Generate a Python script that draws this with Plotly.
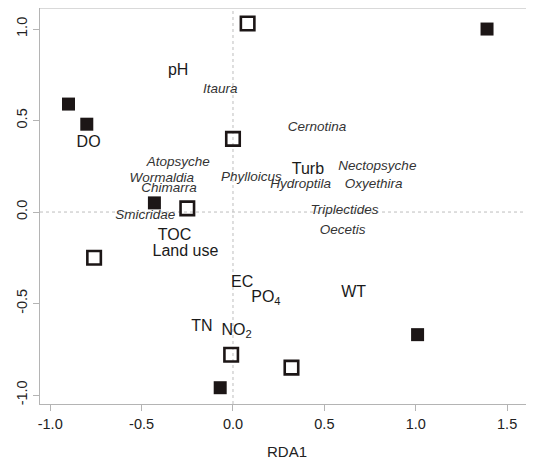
import plotly.graph_objects as go

# Sites
filled_x = [1.39, -0.90, -0.80, -0.43, -0.07, 1.01]
filled_y = [1.00, 0.59, 0.48, 0.05, -0.96, -0.67]
open_x = [0.08, 0.00, -0.25, -0.76, -0.01, 0.32]
open_y = [1.03, 0.40, 0.02, -0.25, -0.78, -0.85]

# Environmental variables
env_labels = ["pH", "DO", "Turb", "TOC", "Land use", "EC", "PO<sub>4</sub>", "WT", "TN", "NO<sub>2</sub>"]
env_x = [-0.30, -0.79, 0.41, -0.32, -0.26, 0.05, 0.18, 0.66, -0.17, 0.02]
env_y = [0.77, 0.38, 0.23, -0.13, -0.22, -0.39, -0.47, -0.44, -0.63, -0.65]

# Taxa
taxa_labels = ["Itaura", "Cernotina", "Atopsyche", "Phylloicus", "Nectopsyche", "Wormaldia",
               "Chimarra", "Hydroptila", "Oxyethira", "Smicridae", "Triplectides", "Oecetis"]
taxa_x = [-0.07, 0.46, -0.30, 0.10, 0.79, -0.39, -0.35, 0.37, 0.77, -0.48, 0.61, 0.60]
taxa_y = [0.67, 0.46, 0.27, 0.19, 0.25, 0.18, 0.13, 0.15, 0.15, -0.02, 0.005, -0.10]

x_ticks = [-1.0, -0.5, 0.0, 0.5, 1.0, 1.5]
x_ticklabels = ["-1.0", "-0.5", "0.0", "0.5", "1.0", "1.5"]
y_ticks = [-1.0, -0.5, 0.0, 0.5, 1.0]
y_ticklabels = ["-1.0", "-0.5", "0.0", "0.5", "1.0"]

fig = go.Figure()

fig.add_trace(go.Scatter(x=taxa_x, y=taxa_y, mode="text", text=[f"<i>{t}</i>" for t in taxa_labels],
                         textfont=dict(family="Liberation Sans, Arial", size=13.5, color="#333333"),
                         showlegend=False, hoverinfo="skip"))
fig.add_trace(go.Scatter(x=env_x, y=env_y, mode="text", text=env_labels,
                         textfont=dict(family="Liberation Sans, Arial", size=16, color="#1a1a1a"),
                         showlegend=False, hoverinfo="skip"))
fig.add_trace(go.Scatter(x=filled_x, y=filled_y, mode="markers",
                         marker=dict(symbol="square", size=13, color="#1c1616",
                                     line=dict(width=0)),
                         showlegend=False))
fig.add_trace(go.Scatter(x=open_x, y=open_y, mode="markers",
                         marker=dict(symbol="square-open", size=13.5, color="#1c1616",
                                     line=dict(width=2.6, color="#1c1616")),
                         showlegend=False))

axis_common = dict(showgrid=False, zeroline=False, showline=True, linecolor="#b4b4b4", linewidth=1.2,
                   ticks="outside", ticklen=6, tickcolor="#b4b4b4", tickwidth=1,
                   tickfont=dict(family="Liberation Sans, Arial", size=14.5, color="#222222"),
                   automargin=False)

fig.update_layout(
    width=526, height=452,
    margin=dict(l=32, r=0, t=0, b=56),
    plot_bgcolor="white", paper_bgcolor="white",
    xaxis=dict(range=[-1.056, 1.647], tickvals=x_ticks, ticktext=x_ticklabels, **axis_common,
               title=dict(text="RDA1", font=dict(family="Liberation Sans, Arial", size=15, color="#222222"),
                          standoff=16)),
    yaxis=dict(range=[-1.049, 1.115], tickvals=y_ticks, ticktext=y_ticklabels, tickangle=-90, **axis_common),
    shapes=[
        dict(type="line", xref="x", yref="paper", x0=0, x1=0, y0=0, y1=1,
             line=dict(color="#bdbdbd", width=1, dash="dot"), layer="below"),
        dict(type="line", xref="paper", yref="y", x0=0, x1=1, y0=0, y1=0,
             line=dict(color="#bdbdbd", width=1, dash="dot"), layer="below"),
        dict(type="line", xref="paper", yref="paper", x0=0, x1=1, y0=1, y1=1,
             line=dict(color="#b4b4b4", width=1.2)),
    ],
)

fig.write_html("out.html")
